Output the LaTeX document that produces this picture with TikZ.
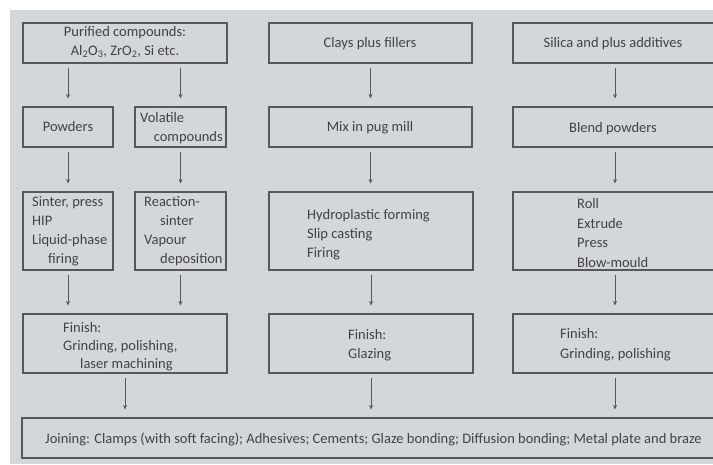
\documentclass[tikz,border=0pt]{standalone}
\usepackage{fontspec}
\setmainfont{Carlito}
\usetikzlibrary{arrows.meta}
\definecolor{bg}{RGB}{212,215,218}
\definecolor{ln}{RGB}{88,88,90}
\definecolor{tx}{RGB}{66,66,68}
\begin{document}
\begin{tikzpicture}[x=1pt,y=-1pt,
  box/.style={draw=ln,line width=1.1pt,fill=bg,rectangle,inner sep=0pt},
  lbl/.style={anchor=base west,inner sep=0pt,text=tx,font=\fontsize{14.5}{19}\selectfont},
  clbl/.style={lbl,anchor=base},
  rlbl/.style={lbl,anchor=base east},
  arr/.style={draw=ln,line width=0.7pt,-{Stealth[length=4.5pt,width=4pt]},shorten <=4pt,shorten >=8pt}]
\useasboundingbox (0,0) rectangle (713,464);
\fill[white] (0,0) rectangle (713,464);
\fill[bg] (10,10) rectangle (713,464);
% boxes
\node[box,minimum width=204pt,minimum height=40pt] (A) at (125,43) {};
\node[box,minimum width=90pt,minimum height=40pt] (B) at (68,127) {};
\node[box,minimum width=91pt,minimum height=40pt] (C) at (180.5,127) {};
\node[box,minimum width=90pt,minimum height=78pt] (D) at (68,231) {};
\node[box,minimum width=91pt,minimum height=78pt] (E) at (180.5,231) {};
\node[box,minimum width=204pt,minimum height=59pt] (F) at (125,343.5) {};
\node[box,minimum width=203pt,minimum height=40pt] (G) at (370.5,43) {};
\node[box,minimum width=203pt,minimum height=40pt] (H) at (370.5,127) {};
\node[box,minimum width=204pt,minimum height=78pt] (I) at (371,231) {};
\node[box,minimum width=204pt,minimum height=59pt] (J) at (371,343.5) {};
\node[box,minimum width=204pt,minimum height=40pt] (K) at (615,43) {};
\node[box,minimum width=204pt,minimum height=40pt] (L) at (615,127) {};
\node[box,minimum width=204pt,minimum height=78pt] (M) at (615,231) {};
\node[box,minimum width=204pt,minimum height=59pt] (N) at (615,343.5) {};
\node[box,minimum width=698pt,minimum height=40pt] (O) at (371,438) {};
% arrows
\draw[arr] (B.north |- A.south) -- (B.north);
\draw[arr] (C.north |- A.south) -- (C.north);
\draw[arr] (B.south) -- (B.south |- D.north);
\draw[arr] (C.south) -- (C.south |- E.north);
\draw[arr] (D.south) -- (D.south |- F.north);
\draw[arr] (E.south) -- (E.south |- F.north);
\draw[arr] (F.south) -- (F.south |- O.north);
\draw[arr] (G.south) -- (G.south |- H.north);
\draw[arr] (H.south) -- (H.south |- I.north);
\draw[arr] (I.south) -- (I.south |- J.north);
\draw[arr] (J.south) -- (J.south |- O.north);
\draw[arr] (K.south) -- (K.south |- L.north);
\draw[arr] (L.south) -- (L.south |- M.north);
\draw[arr] (M.south) -- (M.south |- N.north);
\draw[arr] (N.south) -- (N.south |- O.north);
% texts
\node[clbl] (ta1) at (125,36) {Purified compounds:};
\node[clbl] (ta2) at (125,55) {Al\textsubscript{2}O\textsubscript{3}, ZrO\textsubscript{2}, Si etc.};
\node[clbl] (tb1) at (68,131) {Powders};
\node[lbl] (tc1) at (140,122) {Volatile};
\node[rlbl] (tc2) at (223,141) {compounds};
\node[lbl] (td1) at (32,206) {Sinter, press};
\node[lbl] (td2) at (32,225) {HIP};
\node[lbl] (td3) at (32,244) {Liquid-phase};
\node[lbl] (td4) at (48,263) {firing};
\node[lbl] (te1) at (144,206) {Reaction-};
\node[lbl] (te2) at (160,225) {sinter};
\node[lbl] (te3) at (144,244) {Vapour};
\node[lbl] (te4) at (160,263) {deposition};
\node[lbl] (tf1) at (63,332) {Finish:};
\node[lbl] (tf2) at (63,350) {Grinding, polishing,};
\node[lbl] (tf3) at (80,368) {laser machining};
\node[clbl] (tg1) at (370,47) {Clays plus fillers};
\node[clbl] (th1) at (370,131) {Mix in pug mill};
\node[lbl] (ti1) at (307,219) {Hydroplastic forming};
\node[lbl] (ti2) at (307,238) {Slip casting};
\node[lbl] (ti3) at (307,257) {Firing};
\node[lbl] (tj1) at (348,339) {Finish:};
\node[lbl] (tj2) at (348,358) {Glazing};
\node[clbl] (tk1) at (613,47) {Silica and plus additives};
\node[clbl] (tl1) at (613,132) {Blend powders};
\node[lbl] (tm1) at (577,208) {Roll};
\node[lbl] (tm2) at (577,228) {Extrude};
\node[lbl] (tm3) at (577,247) {Press};
\node[lbl] (tm4) at (577,267) {Blow-mould};
\node[lbl] (tn1) at (560,338) {Finish:};
\node[lbl] (tn2) at (560,358) {Grinding, polishing};
\node[lbl] (to1) at (45,443) {Joining: Clamps (with soft facing); Adhesives; Cements; Glaze bonding; Diffusion bonding; Metal plate and braze};
\end{tikzpicture}
\end{document}
